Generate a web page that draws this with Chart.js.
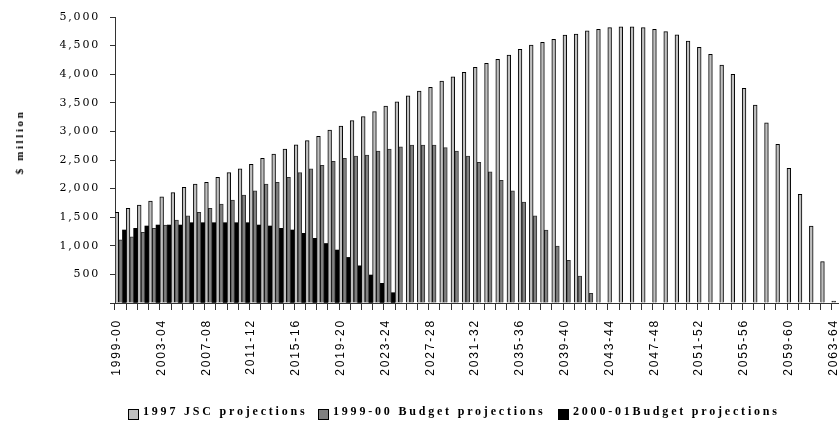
<!DOCTYPE html>
<html>
<head>
<meta charset="utf-8">
<script src="https://cdn.jsdelivr.net/npm/chart.js@4/dist/chart.umd.min.js"></script>
<style>
  html, body { margin: 0; padding: 0; background: #fff; overflow: hidden; }
  body { width: 839px; height: 422px; position: relative; }
  #graphique { position: absolute; left: 0; top: 0; }
  #titre-y {
    position: absolute; left: 19px; top: 142px;
    transform: translate(-50%, -50%) rotate(-90deg);
    font: bold 11px "Liberation Serif", serif; letter-spacing: 2.6px;
    white-space: nowrap; color: #000;
  }
  .legende { position: absolute; top: 405px; font: bold 12px "Liberation Serif", serif;
    letter-spacing: 2.8px; line-height: 12px; white-space: nowrap; color: #000; }
  .carre { position: absolute; top: 409px; width: 9px; height: 9px; border: 1px solid #000; }
</style>
</head>
<body>
<canvas id="graphique" width="845" height="422"></canvas>
<div id="titre-y">$ million</div>
<div class="carre" style="left:128px;background:#c0c0c0"></div>
<div class="legende" style="left:143px">1997 JSC projections</div>
<div class="carre" style="left:318px;background:#808080"></div>
<div class="legende" style="left:333px">1999-00 Budget projections</div>
<div class="carre" style="left:558px;background:#000"></div>
<div class="legende" style="left:573px">2000-01Budget projections</div>
<script>
// Années financières
const categories = [
  '1999-00', '2000-01', '2001-02', '2002-03', '2003-04', '2004-05', '2005-06', '2006-07',
  '2007-08', '2008-09', '2009-10', '2010-11', '2011-12', '2012-13', '2013-14', '2014-15',
  '2015-16', '2016-17', '2017-18', '2018-19', '2019-20', '2020-21', '2021-22', '2022-23',
  '2023-24', '2024-25', '2025-26', '2026-27', '2027-28', '2028-29', '2029-30', '2030-31',
  '2031-32', '2032-33', '2033-34', '2034-35', '2035-36', '2036-37', '2037-38', '2038-39',
  '2039-40', '2040-41', '2041-42', '2042-43', '2043-44', '2044-45', '2045-46', '2046-47',
  '2047-48', '2048-49', '2049-50', '2050-51', '2051-52', '2052-53', '2053-54', '2054-55',
  '2055-56', '2056-57', '2057-58', '2058-59', '2059-60', '2060-61', '2061-62', '2062-63',
  '2063-64'
];

// 1997 JSC projections
const jsc1997 = [
  1585, 1655, 1710, 1783, 1858, 1930, 2022, 2078, 2110, 2195, 2278, 2345, 2424, 2529, 2605, 2692,
  2765, 2840, 2912, 3024, 3094, 3187, 3257, 3345, 3444, 3519, 3624, 3706, 3770, 3881, 3956, 4033,
  4120, 4190, 4260, 4335, 4434, 4510, 4557, 4609, 4685, 4702, 4760, 4784, 4813, 4830, 4830, 4813,
  4784, 4743, 4690, 4580, 4470, 4347, 4160, 3998, 3753, 3461, 3152, 2774, 2355, 1900, 1346, 722,
  35
];

// 1999-00 Budget projections
const budget9900 = [
  1105, 1159, 1236, 1305, 1363, 1451, 1526, 1585, 1655, 1731, 1800, 1888, 1963, 2078, 2110, 2197,
  2278, 2345, 2405, 2475, 2529, 2570, 2587, 2657, 2692, 2732, 2762, 2762, 2762, 2715, 2657, 2570,
  2459, 2295, 2145, 1963, 1766, 1526, 1276, 996, 746, 472, 170
];

// 2000-01 Budget projections
const budget0001 = [
  1276, 1305, 1346, 1363, 1363, 1363, 1404, 1404, 1404, 1404, 1404, 1404, 1363, 1346, 1305, 1276,
  1218, 1131, 1040, 926, 797, 650, 489, 344, 180
];

const yTicks = [0, 500, 1000, 1500, 2000, 2500, 3000, 3500, 4000, 4500, 5000];

// espacement des lettres comme sur l'original
const espacement = {
  id: 'espacement',
  beforeUpdate(chart) { chart.ctx.letterSpacing = '1.8px'; },
  beforeDraw(chart) { chart.ctx.letterSpacing = '1.8px'; }
};

const data = {
  labels: categories,
  datasets: [
    { label: '1997 JSC projections', data: jsc1997,
      backgroundColor: '#c0c0c0', borderColor: '#000', borderWidth: 1 },
    { label: '1999-00 Budget projections', data: budget9900,
      backgroundColor: '#808080', borderColor: '#333', borderWidth: 1 },
    { label: '2000-01Budget projections', data: budget0001,
      backgroundColor: '#000', borderColor: '#000', borderWidth: 0 }
  ]
};

const options = {
  responsive: false,
  animation: false,
  layout: { padding: { left: 0, right: 2, top: 17, bottom: 0 } },
  datasets: { bar: { categoryPercentage: 1, barPercentage: 1 } },
  scales: {
    x: {
      grid: { drawOnChartArea: false, tickLength: 7, color: '#333', offset: true },
      border: { color: '#333' },
      ticks: {
        autoSkip: false, minRotation: 90, maxRotation: 90, padding: 9, labelOffset: -4,
        color: '#000', font: { family: '"Liberation Sans", Arial, sans-serif', size: 12 },
        callback: (v, i) => (i % 4 === 0 ? categories[i] : '')
      },
      afterFit: (s) => { s.height = 119; s.paddingLeft = 0; s.paddingRight = 0; }
    },
    y: {
      min: 0, max: 5000,
      afterBuildTicks: (s) => { s.ticks = yTicks.map(v => ({ value: v })); },
      grid: { drawOnChartArea: false, tickLength: 5, color: '#333' },
      border: { color: '#333' },
      ticks: {
        padding: 10, color: '#000',
        font: { family: '"DejaVu Serif", serif', size: 11 },
        callback: (v) => (v === 0 ? '' : v.toLocaleString('en-US'))
      },
      afterFit: (s) => { s.width = 115; s.paddingTop = 0; s.paddingBottom = 0; }
    }
  },
  plugins: { legend: { display: false }, tooltip: { enabled: false } }
};

const ctx = document.getElementById('graphique').getContext('2d');
new Chart(ctx, { type: 'bar', data: data, options: options, plugins: [espacement] });
</script>
</body>
</html>
